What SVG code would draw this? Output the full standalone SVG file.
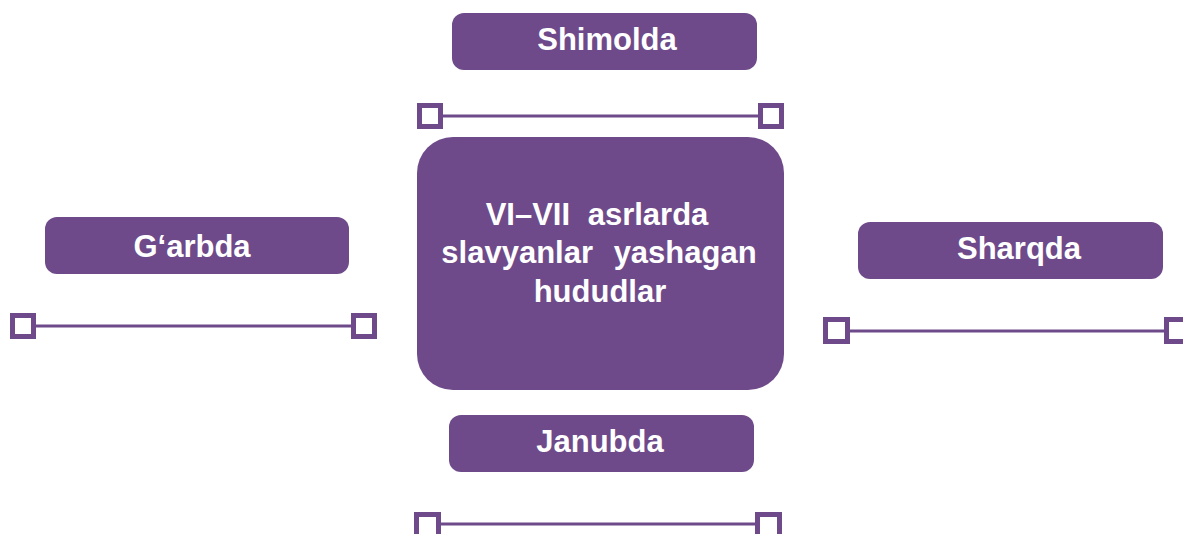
<svg xmlns="http://www.w3.org/2000/svg" width="1183" height="534" viewBox="0 0 1183 534">
<style>
.box{fill:#6E4A8A}
.t{fill:#fff;font-family:"Liberation Sans",Arial,sans-serif;font-weight:bold;font-size:31px;text-anchor:middle}
.ln{stroke:#6E4A8A;stroke-width:3;fill:none}
.sq{fill:#fff;stroke:#6E4A8A;stroke-width:5}
</style>
<rect width="1183" height="534" fill="#fff"/>
<g id="connectors">
<line class="ln" x1="430" y1="116" x2="771" y2="116"/>
<rect class="sq" x="419.5" y="105.5" width="21" height="21"/>
<rect class="sq" x="760.5" y="105.5" width="21" height="21"/>
<line class="ln" x1="23" y1="326" x2="364" y2="326"/>
<rect class="sq" x="12.5" y="315.5" width="21" height="21"/>
<rect class="sq" x="353.5" y="315.5" width="21" height="21"/>
<line class="ln" x1="836" y1="331" x2="1177" y2="331"/>
<rect class="sq" x="825.5" y="319.5" width="22" height="22"/>
<rect class="sq" x="1166.5" y="319.5" width="22" height="22"/>
<line class="ln" x1="427" y1="524" x2="768" y2="524"/>
<rect class="sq" x="416.5" y="514.5" width="22" height="22"/>
<rect class="sq" x="757.5" y="514.5" width="22" height="22"/>
</g>
<g id="center">
<rect class="box" x="417" y="137" width="367" height="253" rx="36"/>
<text class="t" x="597" y="225" word-spacing="9">VI–VII asrlarda</text>
<text class="t" x="599" y="263" word-spacing="12">slavyanlar yashagan</text>
<text class="t" x="600" y="302">hududlar</text>
</g>
<g id="shimolda">
<rect class="box" x="452" y="13" width="305" height="57" rx="12"/>
<text class="t" x="607" y="50">Shimolda</text>
</g>
<g id="garbda">
<rect class="box" x="45" y="217" width="304" height="57" rx="12"/>
<text class="t" x="192" y="257">G‘arbda</text>
</g>
<g id="sharqda">
<rect class="box" x="858" y="222" width="305" height="57" rx="12"/>
<text class="t" x="1019" y="259">Sharqda</text>
</g>
<g id="janubda">
<rect class="box" x="449" y="415" width="305" height="57" rx="12"/>
<text class="t" x="600" y="452">Janubda</text>
</g>
</svg>
